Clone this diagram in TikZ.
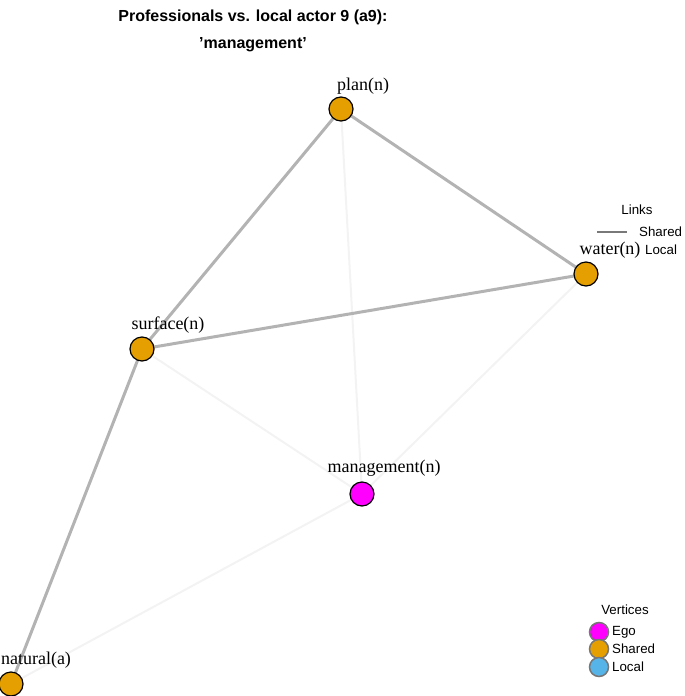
\documentclass[tikz,border=0pt]{standalone}
\usepackage{fontspec}
\setmainfont{Liberation Serif}
\newfontfamily\sansf{Liberation Sans}
\definecolor{ego}{HTML}{FF00FF}
\definecolor{shared}{HTML}{E69F00}
\definecolor{localc}{HTML}{56B4E9}
\definecolor{sharededge}{HTML}{B3B3B3}
\definecolor{localedge}{HTML}{F3F3F3}
\definecolor{legborder}{HTML}{777777}
\begin{document}
\begin{tikzpicture}[x=1pt,y=-1pt,
  vtx/.style={circle,draw=black,line width=1.2pt,minimum size=24pt,inner sep=0pt},
  lbl/.style={font=\fontsize{18}{20}\selectfont,inner sep=0pt},
  sedge/.style={draw=sharededge,line width=3pt},
  ledge/.style={draw=localedge,line width=2pt},
  legtxt/.style={font=\sansf\fontsize{13.3}{15}\selectfont,inner sep=0pt},
  legvtx/.style={circle,draw=legborder,line width=1.5pt,minimum size=19pt,inner sep=0pt}]
\useasboundingbox (0,0) rectangle (685,696);
% title
\node[font=\sansf\bfseries\fontsize{16}{18}\selectfont,inner sep=0pt] (t1) at (253,17) {Professionals vs. local actor 9 (a9):};
\node[font=\sansf\bfseries\fontsize{16}{18}\selectfont,inner sep=0pt] (t2) at (253,45) {’management’};
% vertices
\coordinate (cplan) at (341,109);
\coordinate (cwater) at (586,274);
\coordinate (csurf) at (142,349);
\coordinate (cman) at (362,494);
\coordinate (cnat) at (11,684);
% edges (local first)
\draw[ledge] (cplan) -- (cman);
\draw[ledge] (csurf) -- (cman);
\draw[ledge] (cwater) -- (cman);
\draw[ledge] (cnat) -- (cman);
\draw[sedge] (cplan) -- (csurf);
\draw[sedge] (cplan) -- (cwater);
\draw[sedge] (csurf) -- (cwater);
\draw[sedge] (csurf) -- (cnat);
\node[vtx,fill=shared] (plan) at (cplan) {};
\node[vtx,fill=shared] (water) at (cwater) {};
\node[vtx,fill=shared] (surf) at (csurf) {};
\node[vtx,fill=ego] (man) at (cman) {};
\node[vtx,fill=shared] (nat) at (cnat) {};
% labels
\node[lbl] (lplan) at (363,86) {plan(n)};
\node[lbl] (lsurf) at (168,325) {surface(n)};
\node[lbl] (lman) at (384,468) {management(n)};
\node[lbl] (lnat) at (36,660) {natural(a)};
% links legend
\node[legtxt] (links) at (637,210) {Links};
\coordinate (ls1) at (597,232);
\coordinate (ls2) at (627,232);
\draw[draw=gray!95!black,line width=2.5pt] (ls1) -- (ls2);
\node[legtxt,anchor=west] (lshared) at (639,232) {Shared};
\node[legtxt,anchor=west] (llocal) at (645,250) {Local};
\node[lbl] (lwater) at (610,250) {water(n)};
% vertices legend
\node[legtxt] (verts) at (625,610) {Vertices};
\node[legvtx,fill=ego] (v1) at (599,632) {};
\node[legvtx,fill=shared] (v2) at (599,649) {};
\node[legvtx,fill=localc] (v3) at (599,667) {};
\node[legtxt,anchor=west] (t_ego) at (612,632) {Ego};
\node[legtxt,anchor=west] (t_sh) at (612,649) {Shared};
\node[legtxt,anchor=west] (t_lo) at (612,667) {Local};
\end{tikzpicture}
\end{document}
